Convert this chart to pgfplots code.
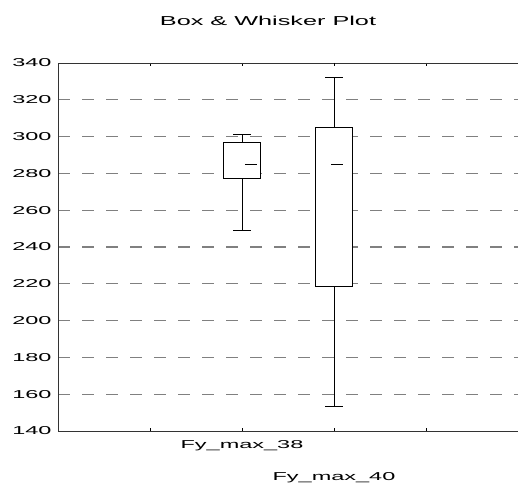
\documentclass[border=0pt]{standalone}
\usepackage{fontspec}
\setmainfont{Liberation Sans}[FakeStretch=2.05]
\newfontfamily\titlefont{Liberation Sans}
\usepackage{graphicx}
\usepackage{pgfplots}
\pgfplotsset{compat=1.18}
\definecolor{gridgray}{RGB}{128,128,128}
\begin{document}
\begin{tikzpicture}
\useasboundingbox (0bp,0bp) rectangle (519bp,483bp);
\node[font=\titlefont\fontsize{13}{15}\selectfont] at (268bp,462bp) {\scalebox{1.95}[1]{Box \& Whisker Plot}};
\begin{axis}[
  at={(58bp,52bp)}, anchor=south west, scale only axis,
  width=460bp, height=368bp,
  xmin=0, xmax=5, ymin=140, ymax=340,
  axis y line*=left,
  axis line style={line width=0.8bp, black!80},
  /pgf/number format/assume math mode=true,
  ytick={160,180,...,320},
  extra y ticks={140,340},
  extra y tick style={ymajorgrids=false},
  yticklabel={\pgfmathprintnumber{\tick}},
  ytick style={draw=none},
  yticklabel style={font=\fontsize{11.5}{13}\selectfont, xshift=-3bp},
  xtick={1,2,4},
  xticklabels={,Fy\_max\_38,},
  extra x ticks={3},
  extra x tick labels={Fy\_max\_40},
  extra x tick style={xticklabel style={yshift=-32bp}},
  xtick style={black, line width=0.6bp},
  major tick length=3bp,
  xticklabel style={font=\fontsize{11.5}{14}\selectfont, yshift=-6bp},
  ymajorgrids,
  grid style={gridgray, line width=1.2bp, dash pattern=on 12bp off 12bp},
]
% Fy_max_38
\addplot[black, line width=0.9bp] coordinates {(2,297) (2,301.4)};
\addplot[black, line width=0.9bp] coordinates {(1.905,301.4) (2.095,301.4)};
\addplot[black, line width=0.9bp] coordinates {(2,277.3) (2,248.9)};
\addplot[black, line width=0.9bp] coordinates {(1.905,248.9) (2.095,248.9)};
\addplot[black, line width=0.9bp, fill=white] coordinates {(1.8,277.3) (2.2,277.3) (2.2,297) (1.8,297)} -- cycle;
\addplot[black, line width=0.9bp] coordinates {(2.03,285) (2.16,285)};
% Fy_max_40
\addplot[black, line width=0.9bp] coordinates {(3,305) (3,332.2)};
\addplot[black, line width=0.9bp] coordinates {(2.905,332.2) (3.095,332.2)};
\addplot[black, line width=0.9bp] coordinates {(3,218.4) (3,153.2)};
\addplot[black, line width=0.9bp] coordinates {(2.905,153.2) (3.095,153.2)};
\addplot[black, line width=0.9bp, fill=white] coordinates {(2.8,218.4) (3.2,218.4) (3.2,305) (2.8,305)} -- cycle;
\addplot[black, line width=0.9bp] coordinates {(2.97,285) (3.1,285)};
\end{axis}
\end{tikzpicture}
\end{document}
